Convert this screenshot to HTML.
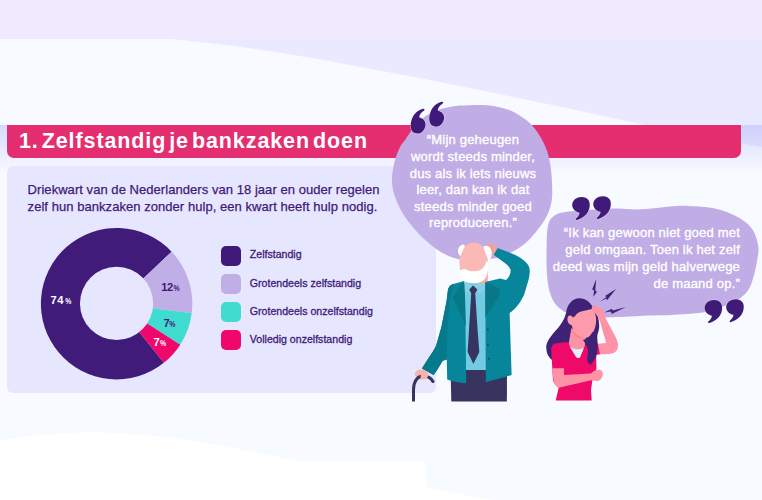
<!DOCTYPE html>
<html lang="nl">
<head>
<meta charset="utf-8">
<title>Zelfstandig je bankzaken doen</title>
<style>
html,body{margin:0;padding:0;}
body{width:762px;height:500px;overflow:hidden;position:relative;background:#f7faff;font-family:"Liberation Sans",sans-serif;color:#3f1a78;}
#bg{position:absolute;left:0;top:0;width:762px;height:500px;}
.abs{position:absolute;white-space:nowrap;}
#fade{position:absolute;left:0;top:125px;width:762px;height:48px;background:linear-gradient(to bottom,rgba(170,170,245,.4),rgba(200,200,250,0));}
#banner{position:absolute;left:7px;top:125px;width:734px;height:33px;background:#e52e6f;border-radius:0 0 7px 7px;}
#h1{left:19px;top:128px;letter-spacing:.9px;word-spacing:-3.9px;font-size:21.5px;line-height:26px;font-weight:bold;color:#fff;}
#card{position:absolute;left:7px;top:166px;width:429px;height:226.7px;background:#e6e7ff;border-radius:6px;}
.p{font-size:13px;letter-spacing:.05px;line-height:17px;color:#3f1a78;left:27.6px;-webkit-text-stroke:.25px #3f1a78;}
.lg{position:absolute;left:221px;width:20px;height:20px;border-radius:5px;}
.lt{left:249.8px;font-size:10.6px;line-height:14px;color:#3f1a78;-webkit-text-stroke:.3px #3f1a78;}
.q{color:#fff;font-size:13px;letter-spacing:.2px;line-height:17px;-webkit-text-stroke:.35px #fff;}
#fg{position:absolute;left:0;top:0;width:762px;height:500px;}
</style>
</head>
<body>
<svg id="bg" viewBox="0 0 762 500">
  <rect x="0" y="0" width="762" height="39" fill="#f0eaff"/>
  <path d="M172 39 Q200 41.5 238 46.5 Q268 50.8 297 55.6 Q327 60.6 356 66.2 L420 78 L560 106.5 L644 125 L741 143.5 L762 147 L762 39 Z" fill="#e9eaff"/>
  <path d="M0 440 C40 434 70 432 100 432.5 C180 434 250 452 305 462 C350 470 400 482 425 487 C450 492 475 497 495 500 L0 500 Z" fill="#ffffff"/>
  <rect x="300" y="461.5" width="125.5" height="39" fill="#ffffff"/>
</svg>
<div id="fade"></div>
<div id="banner"></div>
<div id="h1" class="abs">1. Zelfstandig je bankzaken doen</div>
<div id="card"></div>
<div class="abs p" style="top:180.9px">Driekwart van de Nederlanders van 18 jaar en ouder regelen</div>
<div class="abs p" style="top:198.4px">zelf hun bankzaken zonder hulp, een kwart heeft hulp nodig.</div>

<div class="lg" style="top:245.5px;background:#3f1a78"></div>
<div class="lg" style="top:273.8px;background:#c0aee6"></div>
<div class="lg" style="top:302px;background:#40dcd0"></div>
<div class="lg" style="top:330.4px;background:#f0076b"></div>
<div class="abs lt" style="top:247.3px">Zelfstandig</div>
<div class="abs lt" style="top:275.6px">Grotendeels zelfstandig</div>
<div class="abs lt" style="top:304px">Grotendeels onzelfstandig</div>
<div class="abs lt" style="top:332.2px">Volledig onzelfstandig</div>

<svg id="fg" viewBox="0 0 762 500">
  <!-- donut -->
  <g id="donut">
  <path d="M116.6 303.7 L163.83 362.86 A75.7 75.7 0 1 1 171.60 251.69 Z" fill="#411b79"/>
  <path d="M116.6 303.7 L171.60 251.69 A75.7 75.7 0 0 1 191.69 313.32 Z" fill="#c0aee6"/>
  <path d="M116.6 303.7 L191.69 313.32 A75.7 75.7 0 0 1 180.23 344.71 Z" fill="#40dcd0"/>
  <path d="M116.6 303.7 L180.23 344.71 A75.7 75.7 0 0 1 163.83 362.86 Z" fill="#f0076b"/>
  <circle cx="116.55" cy="303.4" r="36.6" fill="#e6e7ff"/>
  </g>
  <g font-family="Liberation Sans, sans-serif" font-weight="bold" font-size="11.2">
    <text x="50.4" y="304" fill="#fff" letter-spacing=".6">74</text>
    <text x="161.2" y="291.4" fill="#411b79" letter-spacing="-.4">12</text>
    <text x="163.4" y="327.1" fill="#411b79">7</text>
    <text x="153.6" y="345.5" fill="#fff">7</text>
    <g font-size="8.2">
      <text transform="translate(65.3 304) scale(.84 1)" fill="#fff">%</text>
      <text transform="translate(173.5 291.4) scale(.84 1)" fill="#411b79">%</text>
      <text transform="translate(169.3 327.1) scale(.84 1)" fill="#411b79">%</text>
      <text transform="translate(160.1 345.5) scale(.84 1)" fill="#fff">%</text>
    </g>
  </g>
  <!-- bubbles -->
  <path id="bub1" d="M478.9 104.9 C484.4 105.0 488.5 105.1 493.3 105.9 C498.1 106.7 503.4 107.9 507.7 109.5 C512.0 111.1 515.4 112.9 519.3 115.3 C523.1 117.7 527.4 120.6 530.8 124.0 C534.2 127.4 536.9 131.2 539.5 135.5 C542.1 139.8 544.9 144.9 546.7 150.0 C548.5 155.1 549.6 160.4 550.5 166.0 C551.4 171.6 551.8 177.6 552.0 183.6 C552.2 189.6 552.6 196.0 551.5 201.8 C550.4 207.6 548.9 212.4 545.6 218.3 C542.3 224.2 536.2 232.1 531.5 237.2 C526.8 242.3 522.9 245.6 517.3 249.0 C511.7 252.4 505.4 255.5 498.0 257.5 C490.6 259.5 480.0 260.8 473.0 261.0 C466.0 261.2 461.1 259.9 455.9 258.5 C450.7 257.1 446.4 255.3 441.7 252.6 C437.0 249.8 432.2 246.1 427.5 242.0 C422.8 237.9 417.6 232.9 413.3 227.8 C409.0 222.7 404.8 217.1 401.5 211.3 C398.2 205.5 395.4 198.6 393.8 193.0 C392.2 187.4 391.9 183.2 392.0 178.0 C392.1 172.8 393.2 167.1 394.5 162.0 C395.8 156.9 398.0 151.3 399.8 147.6 C401.6 143.8 402.9 143.0 405.4 139.5 C407.8 136.0 411.1 130.4 414.5 126.5 C417.9 122.6 422.0 118.7 425.6 116.1 C429.2 113.5 432.8 112.0 436.0 110.7 C439.2 109.4 441.0 108.8 445.0 108.0 C449.0 107.2 454.4 106.1 460.0 105.6 C465.6 105.1 473.3 104.9 478.9 104.9 Z" fill="#c0ade5"/>
  <path id="bub2" d="M547.3 230.0 C547.9 226.1 548.5 222.5 550.2 219.8 C551.9 217.1 554.4 215.4 557.5 214.0 C560.6 212.6 563.6 212.3 569.0 211.6 C574.4 210.9 582.7 210.5 590.0 210.0 C597.3 209.5 603.9 208.7 612.6 208.6 C621.3 208.5 632.5 209.7 642.0 209.3 C651.5 209.0 661.6 207.1 669.3 206.5 C677.0 205.9 681.6 205.7 688.2 205.9 C694.9 206.1 702.9 206.6 709.2 207.6 C715.5 208.6 720.4 209.7 726.0 211.8 C731.6 213.9 738.2 217.0 742.8 220.2 C747.3 223.3 750.7 226.2 753.3 230.7 C755.9 235.2 757.8 241.9 758.4 247.0 C759.0 252.1 757.7 256.3 757.0 261.0 C756.3 265.7 755.2 270.7 754.0 275.0 C752.8 279.3 751.7 283.7 750.0 287.0 C748.3 290.3 746.7 292.5 744.0 295.0 C741.3 297.5 738.0 299.9 734.0 302.0 C730.0 304.1 725.3 305.8 720.0 307.5 C714.7 309.2 710.6 311.2 702.4 312.5 C694.2 313.8 680.2 314.5 671.0 315.0 C661.8 315.5 656.9 315.2 647.2 315.6 C637.5 316.0 622.3 317.1 612.8 317.3 C603.3 317.5 597.5 317.7 590.0 317.0 C582.5 316.3 572.1 314.1 567.6 313.0 C563.1 311.9 564.9 312.2 562.8 310.6 C560.7 309.0 557.1 306.6 554.9 303.4 C552.7 300.2 550.9 295.8 549.6 291.4 C548.3 287.0 547.7 282.2 547.2 277.0 C546.7 271.8 546.6 265.8 546.5 260.2 C546.4 254.6 546.6 248.4 546.7 243.4 C546.8 238.4 546.7 233.9 547.3 230.0 Z" fill="#c0ade5"/>

  <!-- quote marks -->
  <g fill="#3f1a78" stroke="#efeafa" stroke-width=".7" paint-order="stroke">
    <path id="q66" d="M423.3 108.7 C418.5 109.6 414 113.5 412.1 118.5 C410.3 123 410 127.5 411.7 130.5 C413 133 416.5 134.2 419.8 133.2 C423 132.2 425.3 128.5 425.5 124.7 C425.6 121 423 118.3 419.2 117.6 C419 114.8 421.2 112.2 424.1 110.4 C425 109.6 424.4 108.5 423.3 108.7 Z"/>
    <path transform="translate(18.6 -6.9)" d="M423.3 108.7 C418.5 109.6 414 113.5 412.1 118.5 C410.3 123 410 127.5 411.7 130.5 C413 133 416.5 134.2 419.8 133.2 C423 132.2 425.3 128.5 425.5 124.7 C425.6 121 423 118.3 419.2 117.6 C419 114.8 421.2 112.2 424.1 110.4 C425 109.6 424.4 108.5 423.3 108.7 Z"/>
    <path id="q99" d="M581.7 197.1 C577 197 572.5 200 572.2 204.6 C572 208.5 575 211.8 579.5 212.7 C579.5 215 577.5 217.2 575.9 218.6 C575.2 219.3 575.8 220.3 577 220 C581 219 585.5 215.8 587.8 212 C590 208.5 590.3 204 589 201 C587.8 198.5 585 197.2 581.7 197.1 Z"/>
    <path transform="translate(21.1 -0.9)" d="M581.7 197.1 C577 197 572.5 200 572.2 204.6 C572 208.5 575 211.8 579.5 212.7 C579.5 215 577.5 217.2 575.9 218.6 C575.2 219.3 575.8 220.3 577 220 C581 219 585.5 215.8 587.8 212 C590 208.5 590.3 204 589 201 C587.8 198.5 585 197.2 581.7 197.1 Z"/>
    <path transform="translate(132.4 103)" d="M581.7 197.1 C577 197 572.5 200 572.2 204.6 C572 208.5 575 211.8 579.5 212.7 C579.5 215 577.5 217.2 575.9 218.6 C575.2 219.3 575.8 220.3 577 220 C581 219 585.5 215.8 587.8 212 C590 208.5 590.3 204 589 201 C587.8 198.5 585 197.2 581.7 197.1 Z"/>
    <path transform="translate(154 102.1)" d="M581.7 197.1 C577 197 572.5 200 572.2 204.6 C572 208.5 575 211.8 579.5 212.7 C579.5 215 577.5 217.2 575.9 218.6 C575.2 219.3 575.8 220.3 577 220 C581 219 585.5 215.8 587.8 212 C590 208.5 590.3 204 589 201 C587.8 198.5 585 197.2 581.7 197.1 Z"/>
  </g>
  <!-- old man -->
  <g id="oldman">
    <!-- trousers -->
    <path d="M450.5 368 L507 368 L506.9 401.6 L451.3 401.6 Z" fill="#37355f"/>
    <!-- shirt -->
    <rect x="463.5" y="279" width="23" height="91" fill="#72cae3"/>
    <path d="M467.5 282 L473.1 287 L479 282 L487.3 282 L487.3 288 L480 294 L473.1 288 L467 294 L463.5 289 L463.5 282 Z" fill="#86d0e6"/>
    <rect x="476" y="266" width="11.8" height="17.5" fill="#f7aaa5"/>
    <!-- tie -->
    <path d="M473.1 285.6 L477.4 289.4 L475.2 293.2 L477.6 330 L479.3 352 L473.4 363.9 L467.6 352 L469 330 L471.2 293.2 L469.2 289.4 Z" fill="#37355f"/>
    <!-- hand left -->
    <ellipse cx="421.6" cy="374.6" rx="6.9" ry="4.9" transform="rotate(12 421.6 374.6)" fill="#f9b1ae"/>
    <!-- cane -->
    <path d="M413.5 401.5 L413.5 390 C413.5 382 417 376.4 422.5 376.1 C427.3 375.9 431 378 433 381.6" fill="none" stroke="#37355f" stroke-width="3" stroke-linecap="butt"/>
    <circle cx="433" cy="381.6" r="1.5" fill="#37355f"/>
    <path d="M421.5 370.3 C424 370 427.5 371.5 428.3 374 C428.6 376.5 427 378.6 424.5 379.2 C422.5 379.4 421 378.5 420.5 377 Z" fill="#f9b1ae"/>
    <!-- jacket left + arm -->
    <path d="M463.5 281.3 L453.1 284.1 C450 285 448.3 287.5 447.8 291 L446.6 301 L441.4 327 L436.2 345.2 C434 350 431.5 354 428.4 358.2 L421.9 368.6 L433.6 375.1 C437 370.5 440 365.5 442.7 360.8 L446.8 359.5 L447.2 379.6 C453 381.8 460 383 466.2 383.3 L465.2 300 L464 281.3 Z" fill="#07859a"/>
    <path d="M453.1 284.1 C450 285 448.3 287.5 447.8 291 L446.6 301 L441.4 327 L436.2 345.2 C434 350 431.5 354 428.4 358.2 L421.9 368.6 L433.6 375.1 C437 370.5 440 365.5 442.7 360.8 L446.8 359.5 L447.2 330 L449.5 302 Z" fill="#067a8d"/>
    <!-- jacket right + raised arm -->
    <path d="M485.3 282 L500 278.5 C503.5 279 505.5 280.3 506 280 C509.5 277 511 273 510.5 269.5 C509 266.5 507 264.5 504.5 262.7 L493.2 254.5 L497 247.7 L510.5 253 C516 255 520.5 257.5 524 260.5 C527.5 263.5 529.3 266 529.5 268.7 C530 272 529.5 276 528.5 280 L524 295 C520 303.5 514.5 310 509.6 313 L511.6 375.1 L485.8 382.3 Z" fill="#07859a"/>
    <!-- lapels -->
    <path d="M463 281.3 L452.3 298.4 L454.5 301.5 L465.8 326 L464.2 283 Z" fill="#087888"/>
    <path d="M485.3 282.3 L498.6 288 L499.9 295.8 L496.8 299.8 L485.3 317.5 Z" fill="#087888"/>
    <!-- buttons -->
    <circle cx="487.9" cy="329.6" r="1" fill="#37355f"/>
    <circle cx="487.9" cy="344.7" r="1" fill="#37355f"/>
    <circle cx="488.9" cy="358.7" r="1" fill="#37355f"/>
    <!-- hand on head -->
    <path d="M484.5 245 C487 243.3 491 243.5 494 245 L498 247.5 L493.5 255 C491 253 489.5 251 488.5 249 Z" fill="#f0a39a"/>
    <!-- hair -->
    <path d="M458 252 C457.5 248 460 245 463.5 244.5 C466 246 466 252 465 257.5 C462 258 458.8 256 458 252 Z" fill="#ffffff"/>
    <path d="M483.5 246.5 C486.5 244.5 490.5 246.5 491.5 251 C492.3 255 491 259 488.5 261 C486 258 484 252 483.5 246.5 Z" fill="#ffffff"/>
    <!-- head -->
    <path d="M473.7 242.5 C480 242.3 484 246.5 485 252 C486.5 255.5 488.2 258.5 488 262.5 C487.8 266 487 269 486 272.5 L461 272.5 C459.8 269 459.3 265.5 459.5 262 C459.6 258 461 254.5 462.5 251.5 C464 246 468 242.7 473.7 242.5 Z" fill="#fbb9b6"/>
    <!-- beard -->
    <path d="M459.5 271.5 C461 269.5 463.5 268.5 466 269.5 C469 271.5 476 272 480.5 270 C483.5 268.5 485.5 265 486.3 261 C487.5 261 488.3 262.5 488.2 264.5 C488.3 270 487.5 276 484 280 C480.5 283 476 283.5 472.5 283.2 C468 283 463 281.5 460.8 278.5 C459.3 276.5 458.8 273.8 459.5 271.5 Z" fill="#ffffff"/>
  </g>

  <!-- woman -->
  <g id="woman">
    <!-- bolts -->
    <g fill="#3f2276">
      <path d="M595.8 279.9 L592.2 289.6 L594 290.5 L593.3 296.8 L597 291.7 L595.3 290.5 L596.1 279.9 Z"/>
      <path d="M616 288.9 L605 295.9 L606.4 297 L599.8 301.7 L606.1 298.6 L607 300.2 Z"/>
      <path d="M625.9 306.9 L612.9 310.5 L611.8 308.7 L604.3 312.6 L610.9 311.4 L611.8 313.9 Z"/>
    </g>
    <!-- hair back -->
    <path d="M579.7 298.2 C572 298 567 305 566.2 312.5 C565 317 563.5 320 562.5 321.5 C560 326 557.5 328.5 555.7 330.5 C552 335 549.5 338 548.2 340.5 C546.5 343.5 546 346 546.3 348 C546.5 351 547 353.5 548.2 355.5 C549.2 357.5 550.5 358.8 551.7 359.7 L560 350 L590 345 L594 339.5 C597 336 599 331.5 599.2 327.5 C599.4 323 598.5 319 597.7 315.5 C596.5 311 594.5 308 592.5 306.5 C590 302 585.5 298.5 579.7 298.2 Z" fill="#3f2276"/>
    <!-- raised arm -->
    <path d="M598 343.7 L606 343 C605.5 340 604.8 337.5 604 335.5 L599.6 320 L605.6 318.3 L613.5 333 C616 337.5 618.2 342 618 345.5 C617.8 348.5 617 350.5 615.7 351.5 C613.5 353.3 611 354 609 354 L598 354.4 Z" fill="#fe93a8"/>
    <!-- neck -->
    <path d="M571.5 328 L586 336 L584.5 349 C581 351.5 572.5 351 568.2 346 Z" fill="#fe93a8"/>
    <!-- shirt -->
    <path d="M555 343.5 L567 342 L579.7 357.7 L585 345 L597.7 343.5 L600 354 L596.2 355 L596.4 369 L592.5 379.5 L591 390 L591.7 400.5 L555.7 400.5 L558.7 387.7 L553 381 L552.3 368.2 L551.2 349.5 C551.5 346.5 553 344 555 343.5 Z" fill="#ef0a6a"/>
    <!-- undershirt -->
    <path d="M569.2 345.7 C573 349.5 579 350.5 583.8 348 L579.7 357.7 C578 358.5 577 358 576 357 Z" fill="#def0fa"/>
    <!-- face -->
    <path d="M575 316.2 C576 314.5 577.3 313.2 578.6 312.5 C581 311.2 583.5 310.8 585.6 310.4 L591.9 309 C593.5 310 594.3 311.5 594.7 313.2 C595.8 315.5 596.2 318 596.1 320.2 C596 323.5 595.6 326.3 594.7 328.6 C593.8 331 592.8 333.2 591.2 334.9 C589.6 336.6 587.8 337.6 585.6 337.7 C583 337.7 580.5 337 578.6 335.6 C576.4 334 574.8 332 573.7 330 C572.7 328.3 572 326.6 571.6 325.1 C569.5 325 567.6 322.5 567.4 319.5 C567.3 317 568.5 315.3 570.3 315.5 C571.5 315.6 572.3 316.4 572.8 317.5 Z" fill="#fe9bad"/>
    <path d="M573 332 C575 335 577.5 336.8 580.5 337.4" fill="none" stroke="#f47c5c" stroke-width="1" stroke-linecap="round"/>
    <!-- hair lock right -->
    <path d="M583 340 C586 344 588 348 588 351 C588 355 587 358 587.2 360 C587.8 362.5 589 364 590.2 364.2 C591.5 364 592 363 592.5 362.2 C595 359 596.8 356 597 352.5 C597.5 349 598 346 597.7 343.5 C597.5 340 597 337 597.5 333 L592.5 332 C590.5 336 587 339 583 340 Z" fill="#3f2276"/>
    <!-- hand on head -->
    <path d="M592.3 306.5 C594 304.8 597.5 305.5 600 307.2 C602.5 309 604 311.5 604.5 314 L605.6 319.5 L599.8 321 L597 315.5 C595 313.5 593 311.5 592 309.5 C591.6 308.3 591.7 307.2 592.3 306.5 Z" fill="#fe93a8"/>
    <!-- crossed arm -->
    <path d="M552.3 368.2 L564 368.2 L564 375 L591 373.5 C593 371 597 369.3 600 369.7 C602.5 370.5 603.2 373 602.7 375 C602 378.5 600 380.8 597 381 L591 380.2 L558.7 387.7 C555.5 386.5 553.8 384 553.5 381 Z" fill="#fe93a8"/>
  </g>
</svg>

<div class="abs q" style="left:393px;width:160px;top:131.2px;text-align:center">“Mijn geheugen</div>
<div class="abs q" style="left:393px;width:160px;top:147.7px;text-align:center">wordt steeds minder,</div>
<div class="abs q" style="left:393px;width:160px;top:164.6px;text-align:center">dus als ik iets nieuws</div>
<div class="abs q" style="left:393px;width:160px;top:181.3px;text-align:center">leer, dan kan ik dat</div>
<div class="abs q" style="left:393px;width:160px;top:198.2px;text-align:center">steeds minder goed</div>
<div class="abs q" style="left:393px;width:160px;top:214.4px;text-align:center">reproduceren.”</div>
<div class="abs q" style="left:540px;width:200px;top:224px;text-align:right">“Ik kan gewoon niet goed met</div>
<div class="abs q" style="left:540px;width:200px;top:241.1px;text-align:right">geld omgaan. Toen ik het zelf</div>
<div class="abs q" style="left:540px;width:200px;top:257.9px;text-align:right">deed was mijn geld halverwege</div>
<div class="abs q" style="left:540px;width:200px;top:274.5px;text-align:right">de maand op.”</div>
</body>
</html>
